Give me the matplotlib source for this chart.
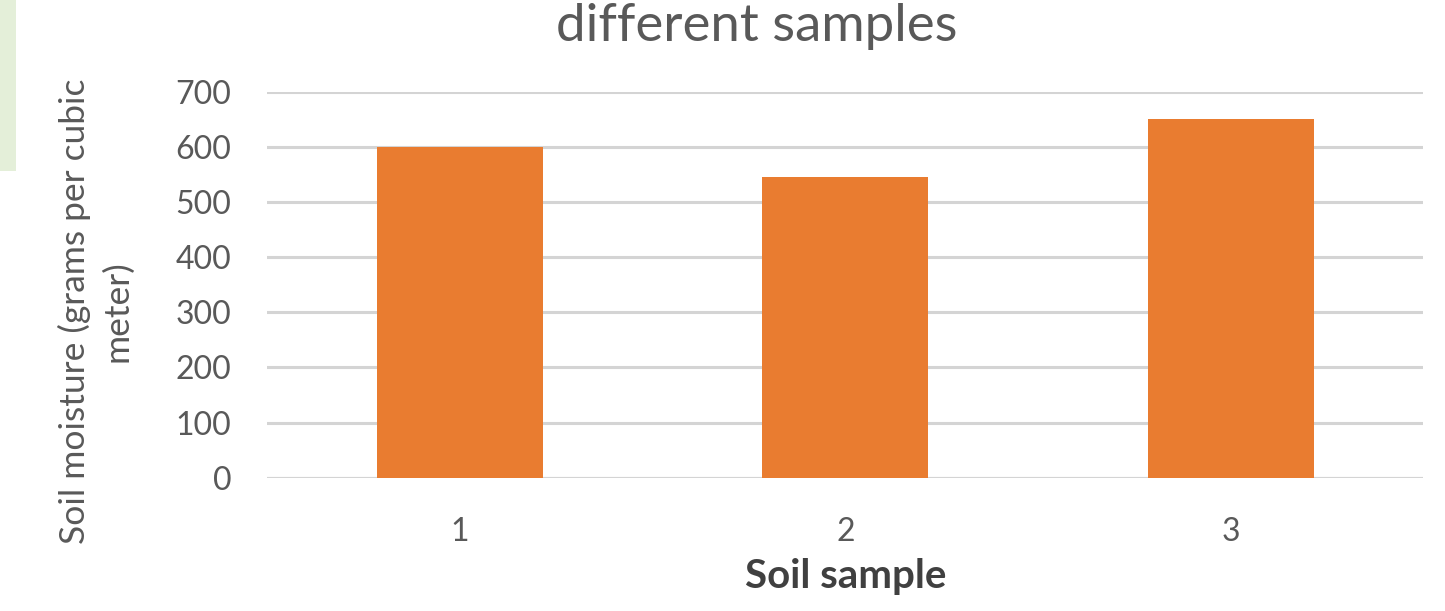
import matplotlib.pyplot as plt
from matplotlib.patches import Rectangle

# Soil moisture per sample
samples = ["1", "2", "3"]
moisture = [600, 545, 650]
y_ticks = [0, 100, 200, 300, 400, 500, 600, 700]

bar_color = "#E97C30"
text_grey = "#595959"
grid_grey = "#D4D4D4"

plt.rcParams["font.family"] = ["Lato", "DejaVu Sans"]

fig = plt.figure(figsize=(14.45, 6.11), dpi=100)
ax = fig.add_axes([0.185, 0.218, 0.80, 0.632])

x = range(len(samples))
ax.bar(x, moisture, width=0.43, color=bar_color, zorder=3)

ax.set_xlim(-0.5, len(samples) - 0.5)
ax.set_ylim(0, 700)
ax.set_yticks(y_ticks)
ax.set_xticks(list(x))
ax.set_xticklabels(samples)

ax.yaxis.grid(True, color=grid_grey, linewidth=2.2, zorder=0)
ax.set_axisbelow(True)
for side in ["top", "right", "left", "bottom"]:
    ax.spines[side].set_visible(False)
ax.axhline(0, color=grid_grey, linewidth=2.2, zorder=1)

ax.tick_params(axis="y", length=0, pad=26, labelsize=23, labelcolor=text_grey)
ax.tick_params(axis="x", length=0, pad=28, labelsize=23, labelcolor=text_grey)

ax.set_xlabel("Soil sample", fontsize=29, fontweight="bold", color="#404040", labelpad=8)

fig.text(0.066, 0.49, "Soil moisture (grams per cubic\nmeter)", rotation=90,
         ha="center", va="center", multialignment="center", linespacing=1.4,
         fontsize=25.5, color=text_grey)

# title sits tight against the top edge
fig.text(0.524, 0.995, "different samples", ha="center", va="top",
         fontsize=38, color=text_grey)

# light green edge of the slide showing at the top left
fig.patches.append(Rectangle((0, 0.72), 0.011, 0.28, transform=fig.transFigure,
                             facecolor="#E4EFD9", edgecolor="none", zorder=0))

fig.savefig("out.png", dpi=100, facecolor="white")
